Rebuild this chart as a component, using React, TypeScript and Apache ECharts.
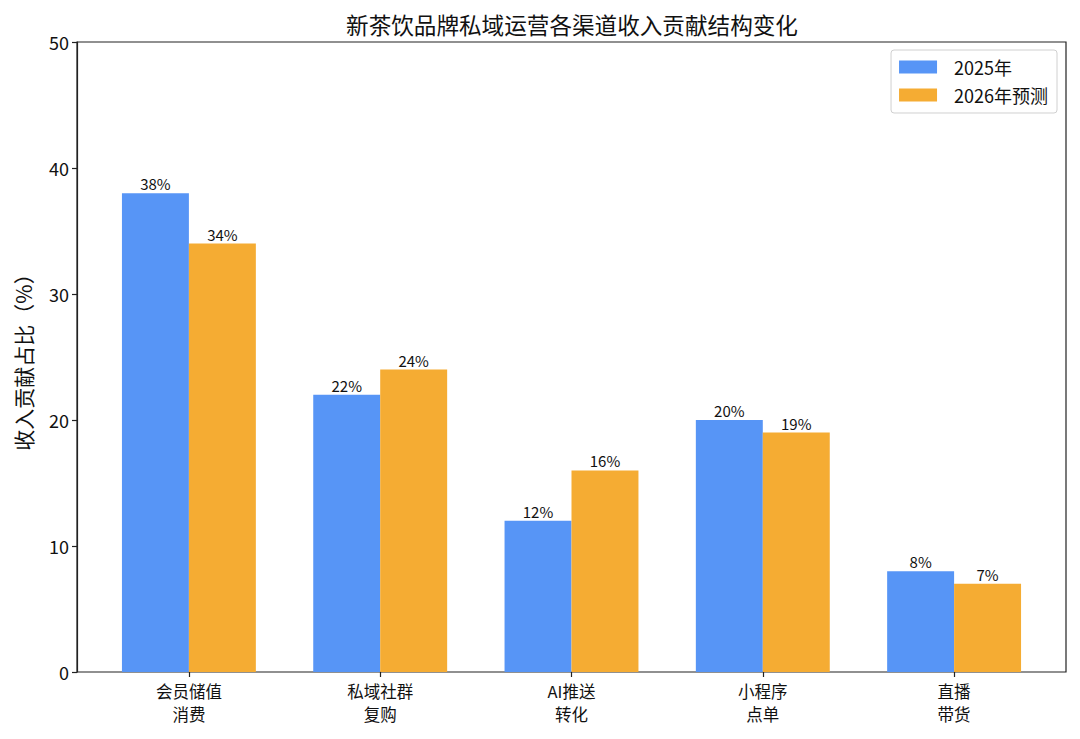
import React, { useEffect, useRef } from "react";
import * as echarts from "echarts";

const categories = ["会员储值\n消费", "私域社群\n复购", "AI推送\n转化", "小程序\n点单", "直播\n带货"];
const values2025 = [38, 22, 12, 20, 8];
const values2026 = [34, 24, 16, 19, 7];
const seriesNames = ["2025年", "2026年预测"];
const yTicks = { min: 0, max: 50, interval: 10 };

const FONT = "'Noto Sans CJK SC', 'Noto Sans', sans-serif";

export default function App() {
  const ref = useRef<HTMLDivElement>(null);
  useEffect(() => {
    document.body.style.margin = "0";
    const chart = echarts.init(ref.current!, null, { renderer: "svg" });
    chart.setOption({
      animation: false,
      backgroundColor: "#ffffff",
      textStyle: { fontFamily: FONT },
      title: {
        text: "新茶饮品牌私域运营各渠道收入贡献结构变化",
        left: 567,
        textAlign: "center",
        top: 8,
        textStyle: { fontSize: 22.6, fontWeight: "normal", color: "#111", fontFamily: FONT },
      },
      legend: {
        right: 23,
        top: 50,
        orient: "vertical",
        icon: "rect",
        itemWidth: 38,
        itemHeight: 13,
        itemGap: 10,
        padding: [8, 9, 9, 8],
        borderColor: "#d0d0d0",
        borderWidth: 1,
        borderRadius: 3,
        textStyle: { fontSize: 18, color: "#111", fontFamily: FONT, padding: [0, 0, 0, 12] },
        data: seriesNames,
      },
      grid: [
        { left: 77, right: 14, top: 42, bottom: 67, show: true, borderColor: "#222", borderWidth: 1.2, backgroundColor: "transparent" },
        { left: 93.25, right: 30.25, top: 42, bottom: 67 },
      ],
      xAxis: [
        { gridIndex: 0, type: "value", min: 0, max: 1, show: false },
        {
          gridIndex: 1,
          type: "category",
          data: categories,
          axisLine: { show: false },
          axisTick: { show: true, alignWithLabel: true, length: 5, lineStyle: { color: "#222", width: 1.2 } },
          axisLabel: { fontSize: 16.5, color: "#111", lineHeight: 23, margin: 7, fontFamily: FONT },
        },
      ],
      yAxis: [
        {
          gridIndex: 0,
          type: "value",
          min: yTicks.min,
          max: yTicks.max,
          interval: yTicks.interval,
          splitLine: { show: false },
          axisLine: { show: true, lineStyle: { color: "#222", width: 1.2 } },
          axisTick: { show: true, length: 5, lineStyle: { color: "#222", width: 1.2 } },
          axisLabel: { fontSize: 18, color: "#111", margin: 8, fontFamily: FONT },
          name: "收入贡献占比（%）",
          nameLocation: "middle",
          nameGap: 44,
          nameRotate: 90,
          nameTextStyle: { fontSize: 21, color: "#111", fontFamily: FONT },
        },
        { gridIndex: 1, type: "value", min: yTicks.min, max: yTicks.max, show: false },
      ],
      series: [
        {
          name: seriesNames[0],
          type: "bar",
          xAxisIndex: 1,
          yAxisIndex: 1,
          data: values2025,
          barWidth: "35%",
          barGap: "0%",
          itemStyle: { color: "#5795F6" },
          label: { show: true, position: "top", distance: 2, formatter: "{c}%", fontSize: 15, color: "#111", fontFamily: FONT },
        },
        {
          name: seriesNames[1],
          type: "bar",
          xAxisIndex: 1,
          yAxisIndex: 1,
          data: values2026,
          barWidth: "35%",
          barGap: "0%",
          itemStyle: { color: "#F5AC33" },
          label: { show: true, position: "top", distance: 2, formatter: "{c}%", fontSize: 15, color: "#111", fontFamily: FONT },
        },
      ],
    });
    return () => chart.dispose();
  }, []);
  return <div ref={ref} style={{ width: 1080, height: 739 }} />;
}
